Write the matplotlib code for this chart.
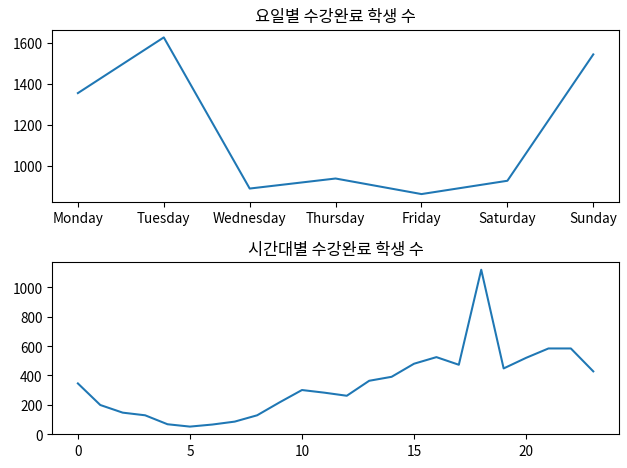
import matplotlib
matplotlib.use('Agg')
import matplotlib.pyplot as plt

plt.rcParams['font.family'] = ['Noto Sans CJK KR', 'DejaVu Sans']
plt.rcParams['axes.unicode_minus'] = False

# 요일별 데이터
days = ['Monday', 'Tuesday', 'Wednesday', 'Thursday', 'Friday', 'Saturday', 'Sunday']
day_counts = [1355, 1627, 889, 938, 862, 927, 1544]

# 시간대별 데이터
hours = list(range(24))
hour_counts = [346, 199, 147, 129, 68, 52, 66, 86, 129, 217, 301, 283,
               262, 364, 391, 480, 525, 473, 1120, 448, 520, 584, 584, 428]

fig, (ax1, ax2) = plt.subplots(2, 1, figsize=(6.4, 4.78), dpi=98.1)

ax1.plot(days, day_counts)
ax1.set_title('요일별 수강완료 학생 수')

ax2.plot(hours, hour_counts)
ax2.set_title('시간대별 수강완료 학생 수')
ax2.set_ylim(bottom=0)

# tight_layout 결과에 맞춘 여백
plt.subplots_adjust(left=0.083, right=0.986, top=0.935, bottom=0.072, hspace=0.348)
plt.savefig('out.png')
